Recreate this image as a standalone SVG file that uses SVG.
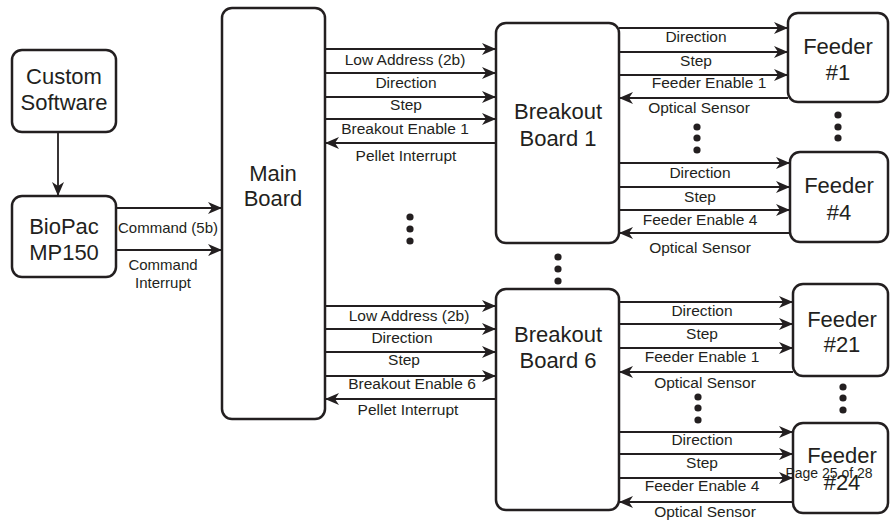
<svg xmlns="http://www.w3.org/2000/svg" width="890" height="522" viewBox="0 0 890 522">
<style>
.box{fill:#fff;stroke:#231f20;stroke-width:2.5}
.big{font-family:"Liberation Sans",Arial,sans-serif;font-size:22px;fill:#231f20;text-anchor:middle}
.lbl{font-family:"Liberation Sans",Arial,sans-serif;font-size:15.5px;fill:#231f20;text-anchor:middle}
.ln{stroke:#231f20;stroke-width:1.8;fill:none;marker-end:url(#ah)}
.dot{fill:#231f20}
</style>
<defs>
<marker id="ah" viewBox="0 0 14 12" refX="14" refY="6" markerWidth="14" markerHeight="12" markerUnits="userSpaceOnUse" orient="auto"><path d="M0,0 L14,6 L0,12 L4,6 z" fill="#231f20"/></marker>
</defs>
<rect width="890" height="522" fill="#fff"/>
<g id="custom-software"><rect class="box" x="12" y="50" width="104" height="82" rx="10"/><text class="big" x="64" y="84">Custom</text><text class="big" x="64" y="110">Software</text></g>
<g id="biopac"><rect class="box" x="12" y="196" width="104" height="81" rx="10"/><text class="big" x="64" y="234">BioPac</text><text class="big" x="64" y="260">MP150</text></g>
<g id="main-board"><rect class="box" x="222" y="8" width="103" height="411" rx="10"/><text class="big" x="273" y="181">Main</text><text class="big" x="273" y="206">Board</text></g>
<g id="breakout-1"><rect class="box" x="496" y="23" width="123" height="220" rx="10"/><text class="big" x="558" y="119">Breakout</text><text class="big" x="558" y="146">Board 1</text></g>
<g id="breakout-6"><rect class="box" x="496" y="289" width="123" height="221" rx="10"/><text class="big" x="558" y="342">Breakout</text><text class="big" x="558" y="368">Board 6</text></g>
<g id="feeder-1"><rect class="box" x="788" y="13" width="100" height="89" rx="10"/><text class="big" x="838" y="54">Feeder</text><text class="big" x="838" y="80">#1</text></g>
<g id="feeder-4"><rect class="box" x="790" y="152" width="98" height="90" rx="10"/><text class="big" x="839" y="193">Feeder</text><text class="big" x="839" y="220">#4</text></g>
<g id="feeder-21"><rect class="box" x="793" y="284" width="95" height="92" rx="10"/><text class="big" x="842" y="327">Feeder</text><text class="big" x="842" y="352">#21</text></g>
<g id="feeder-24"><rect class="box" x="793" y="423" width="95" height="90" rx="10"/><text class="big" x="842" y="463">Feeder</text><text class="big" x="842" y="490">#24</text></g>
<g id="connectors">
<line class="ln" x1="58" y1="132" x2="58" y2="196"/>
<line class="ln" x1="116" y1="208" x2="222" y2="208"/>
<line class="ln" x1="116" y1="250" x2="222" y2="250"/>
<line class="ln" x1="325" y1="49" x2="496" y2="49"/>
<line class="ln" x1="325" y1="73" x2="496" y2="73"/>
<line class="ln" x1="325" y1="97" x2="496" y2="97"/>
<line class="ln" x1="325" y1="119" x2="496" y2="119"/>
<line class="ln" x1="496" y1="143" x2="325" y2="143"/>
<line class="ln" x1="325" y1="306" x2="496" y2="306"/>
<line class="ln" x1="325" y1="329" x2="496" y2="329"/>
<line class="ln" x1="325" y1="352" x2="496" y2="352"/>
<line class="ln" x1="325" y1="376" x2="496" y2="376"/>
<line class="ln" x1="496" y1="399" x2="325" y2="399"/>
<line class="ln" x1="619" y1="28" x2="788" y2="28"/>
<line class="ln" x1="619" y1="52" x2="788" y2="52"/>
<line class="ln" x1="619" y1="75" x2="788" y2="75"/>
<line class="ln" x1="788" y1="98" x2="619" y2="98"/>
<line class="ln" x1="619" y1="163" x2="790" y2="163"/>
<line class="ln" x1="619" y1="187" x2="790" y2="187"/>
<line class="ln" x1="619" y1="210" x2="790" y2="210"/>
<line class="ln" x1="790" y1="233" x2="619" y2="233"/>
<line class="ln" x1="619" y1="302" x2="793" y2="302"/>
<line class="ln" x1="619" y1="324" x2="793" y2="324"/>
<line class="ln" x1="619" y1="348" x2="793" y2="348"/>
<line class="ln" x1="793" y1="372" x2="619" y2="372"/>
<line class="ln" x1="619" y1="432" x2="793" y2="432"/>
<line class="ln" x1="619" y1="454" x2="793" y2="454"/>
<line class="ln" x1="619" y1="478" x2="793" y2="478"/>
<line class="ln" x1="793" y1="502" x2="619" y2="502"/>
</g>
<g id="labels">
<text class="lbl" x="168" y="233" style="font-size:15px">Command (5b)</text>
<text class="lbl" x="163" y="270" style="font-size:15px">Command</text>
<text class="lbl" x="163" y="288" style="font-size:15px">Interrupt</text>
<text class="lbl" x="405" y="65">Low Address (2b)</text>
<text class="lbl" x="406" y="88">Direction</text>
<text class="lbl" x="406" y="110">Step</text>
<text class="lbl" x="405" y="134">Breakout Enable 1</text>
<text class="lbl" x="406" y="161">Pellet Interrupt</text>
<text class="lbl" x="409" y="321">Low Address (2b)</text>
<text class="lbl" x="402" y="343">Direction</text>
<text class="lbl" x="404" y="365">Step</text>
<text class="lbl" x="412" y="389">Breakout Enable 6</text>
<text class="lbl" x="408" y="415">Pellet Interrupt</text>
<text class="lbl" x="696" y="42">Direction</text>
<text class="lbl" x="696" y="66">Step</text>
<text class="lbl" x="709" y="88">Feeder Enable 1</text>
<text class="lbl" x="699" y="113">Optical Sensor</text>
<text class="lbl" x="700" y="178">Direction</text>
<text class="lbl" x="700" y="202">Step</text>
<text class="lbl" x="700" y="225">Feeder Enable 4</text>
<text class="lbl" x="700" y="253">Optical Sensor</text>
<text class="lbl" x="702" y="316">Direction</text>
<text class="lbl" x="702" y="339">Step</text>
<text class="lbl" x="702" y="362">Feeder Enable 1</text>
<text class="lbl" x="705" y="388">Optical Sensor</text>
<text class="lbl" x="702" y="445">Direction</text>
<text class="lbl" x="702" y="468">Step</text>
<text class="lbl" x="702" y="491">Feeder Enable 4</text>
<text class="lbl" x="705" y="517">Optical Sensor</text>
<text x="829" y="478" style="font-family:'Liberation Sans',Arial,sans-serif;font-size:14px;fill:#231f20;text-anchor:middle">Page 25 of 28</text>
</g>
<g id="ellipses">
<circle class="dot" cx="410" cy="217" r="3.6"/><circle class="dot" cx="410" cy="229" r="3.6"/><circle class="dot" cx="410" cy="241" r="3.6"/>
<circle class="dot" cx="558" cy="257" r="3.6"/><circle class="dot" cx="558" cy="269" r="3.6"/><circle class="dot" cx="558" cy="281" r="3.6"/>
<circle class="dot" cx="697" cy="127" r="3.6"/><circle class="dot" cx="697" cy="138" r="3.6"/><circle class="dot" cx="697" cy="150" r="3.6"/>
<circle class="dot" cx="838" cy="115" r="3.6"/><circle class="dot" cx="838" cy="127" r="3.6"/><circle class="dot" cx="838" cy="138" r="3.6"/>
<circle class="dot" cx="698" cy="397" r="3.6"/><circle class="dot" cx="698" cy="408" r="3.6"/><circle class="dot" cx="698" cy="420" r="3.6"/>
<circle class="dot" cx="843" cy="387" r="3.6"/><circle class="dot" cx="843" cy="398" r="3.6"/><circle class="dot" cx="843" cy="410" r="3.6"/>
</g>
</svg>
